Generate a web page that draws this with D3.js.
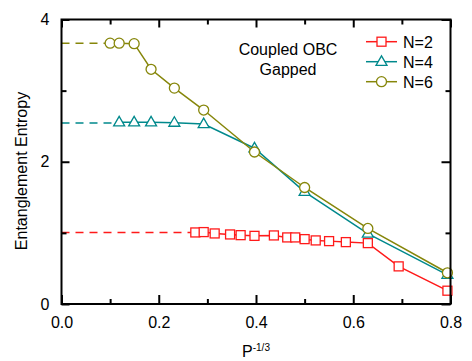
<!DOCTYPE html>
<html>
<head>
<meta charset="utf-8">
<script src="https://cdn.jsdelivr.net/npm/d3@7"></script>
<style>
  body { margin: 0; background: #fff; }
  svg { display: block; font-family: Arial, "Liberation Sans", sans-serif; }
</style>
</head>
<body>
<svg id="chart" width="472" height="361"></svg>
<script>
// Entanglement entropy vs P^(-1/3), coupled OBC chains in the gapped phase
const xN2 = [0.2752, 0.2924, 0.3150, 0.3467, 0.3684, 0.3969, 0.4368, 0.4642, 0.4807, 0.5000, 0.5228, 0.5503, 0.5848, 0.6300, 0.6934, 0.7937];
const yN2 = [1.006, 1.011, 0.992, 0.978, 0.968, 0.958, 0.964, 0.936, 0.936, 0.912, 0.894, 0.884, 0.870, 0.856, 0.529, 0.187];

const xN4 = [0.1186, 0.1494, 0.1842, 0.2321, 0.2924, 0.3969, 0.5000, 0.6300, 0.7937];
const yN4 = [2.555, 2.555, 2.555, 2.550, 2.530, 2.190, 1.577, 0.990, 0.410];

const xN6 = [0.1000, 0.1186, 0.1494, 0.1842, 0.2321, 0.2924, 0.3969, 0.5000, 0.6300, 0.7937];
const yN6 = [3.667, 3.667, 3.660, 3.300, 3.036, 2.727, 2.137, 1.638, 1.062, 0.439];

// extrapolated P -> infinity values (dashed guides to x = 0)
const limitN2 = 1.006;
const limitN4 = 2.545;
const limitN6 = 3.667;

const seriesNames = ["N=2", "N=4", "N=6"];
const seriesColors = ["#ff1a1a", "#00898c", "#86860a"];
const seriesSymbols = ["square", "triangle", "circle"];

const xTickMajor = [0.0, 0.2, 0.4, 0.6, 0.8];
const xTickMinor = [0.1, 0.3, 0.5, 0.7];
const yTickMajor = [0, 2, 4];
const yTickMinor = [1, 3];

const series = [
  { name: seriesNames[0], xs: xN2, ys: yN2, limit: limitN2, color: seriesColors[0], symbol: seriesSymbols[0] },
  { name: seriesNames[1], xs: xN4, ys: yN4, limit: limitN4, color: seriesColors[1], symbol: seriesSymbols[1] },
  { name: seriesNames[2], xs: xN6, ys: yN6, limit: limitN6, color: seriesColors[2], symbol: seriesSymbols[2] }
];

const svg = d3.select("#chart");
const plotLeft = 61.5, plotRight = 450.5, plotTop = 19.5, plotBottom = 304;

const x = d3.scaleLinear().domain([0, 0.8]).range([plotLeft, plotRight]);
const y = d3.scaleLinear().domain([0, 4]).range([plotBottom, plotTop]);

// marker drawing
function drawMarker(g, kind, cx, cy, color) {
  if (kind === "square") {
    g.append("rect").attr("x", cx - 4.5).attr("y", cy - 4.5).attr("width", 9).attr("height", 9)
      .attr("fill", "#fff").attr("stroke", color).attr("stroke-width", 1.3);
  } else if (kind === "triangle") {
    const h = 9.5, w = 11;
    g.append("path")
      .attr("d", `M${cx},${cy - h * 0.62} L${cx + w / 2},${cy + h * 0.38} L${cx - w / 2},${cy + h * 0.38} Z`)
      .attr("fill", "#fff").attr("stroke", color).attr("stroke-width", 1.3);
  } else {
    g.append("circle").attr("cx", cx).attr("cy", cy).attr("r", 5)
      .attr("fill", "#fff").attr("stroke", color).attr("stroke-width", 1.3);
  }
}

const line = d3.line().x(d => x(d[0])).y(d => y(d[1]));
const plot = svg.append("g");

series.forEach(s => {
  // dashed extrapolation line from x=0 to the first point
  plot.append("path")
    .datum([[0, s.limit], [s.xs[0], s.limit]])
    .attr("d", line)
    .attr("fill", "none").attr("stroke", s.color).attr("stroke-width", 1.5)
    .attr("stroke-dasharray", "8,6");
  const pts = s.xs.map((v, i) => [v, s.ys[i]]);
  plot.append("path").datum(pts).attr("d", line)
    .attr("fill", "none").attr("stroke", s.color).attr("stroke-width", 1.5);
});
series.forEach(s => {
  const g = plot.append("g");
  s.xs.forEach((v, i) => drawMarker(g, s.symbol, x(v), y(s.ys[i]), s.color));
});

// axes (ticks pointing inward on all four sides)
const axisG = svg.append("g");
const bottomAxis = d3.axisBottom(x).tickValues(xTickMajor).tickFormat(d3.format(".1f")).tickSize(-9).tickPadding(13);
const bottomMinor = d3.axisBottom(x).tickValues(xTickMinor).tickFormat("").tickSize(-5);
const topAxis = d3.axisTop(x).tickValues(xTickMajor).tickFormat("").tickSize(-8);
const topMinor = d3.axisTop(x).tickValues(xTickMinor).tickFormat("").tickSize(-5);
const leftAxis = d3.axisLeft(y).tickValues(yTickMajor).tickFormat(d3.format("d")).tickSize(-8).tickPadding(12);
const leftMinor = d3.axisLeft(y).tickValues(yTickMinor).tickFormat("").tickSize(-5);
const rightAxis = d3.axisRight(y).tickValues(yTickMajor).tickFormat("").tickSize(-9);
const rightMinor = d3.axisRight(y).tickValues(yTickMinor).tickFormat("").tickSize(-5);

function styleAxis(sel) {
  sel.selectAll(".tick line").attr("stroke", "#000").attr("stroke-width", 2);
  sel.selectAll(".tick text").attr("fill", "#000").style("font-size", "16px")
    .style("font-family", "Arial, 'Liberation Sans', sans-serif");
}

[[bottomAxis, `translate(0,${plotBottom})`], [bottomMinor, `translate(0,${plotBottom})`],
 [topAxis, `translate(0,${plotTop})`], [topMinor, `translate(0,${plotTop})`],
 [leftAxis, `translate(${plotLeft},0)`], [leftMinor, `translate(${plotLeft},0)`],
 [rightAxis, `translate(${plotRight},0)`], [rightMinor, `translate(${plotRight},0)`]]
  .forEach(([ax, tr]) => {
    const g = axisG.append("g").attr("transform", tr).call(ax);
    g.select(".domain").remove();
    styleAxis(g);
  });

// frame
axisG.append("rect").attr("x", plotLeft).attr("y", plotTop)
  .attr("width", plotRight - plotLeft).attr("height", plotBottom - plotTop)
  .attr("fill", "none").attr("stroke", "#000").attr("stroke-width", 2);

// axis titles
const xt = svg.append("text").attr("x", 256).attr("y", 357)
  .attr("text-anchor", "middle").attr("fill", "#000").style("font-size", "16px");
xt.append("tspan").text("P");
xt.append("tspan").attr("dy", -6).style("font-size", "10px").text("-1/3");

svg.append("text").attr("transform", "translate(27,171) rotate(-90)")
  .attr("text-anchor", "middle").attr("fill", "#000").style("font-size", "16px")
  .text("Entanglement Entropy");

// annotation
svg.append("text").attr("x", 288).attr("y", 55).attr("text-anchor", "middle")
  .attr("fill", "#000").style("font-size", "16px").text("Coupled OBC");
svg.append("text").attr("x", 288).attr("y", 75).attr("text-anchor", "middle")
  .attr("fill", "#000").style("font-size", "16px").text("Gapped");

// legend
const legend = svg.append("g");
series.forEach((s, i) => {
  const ly = 41.7 + i * 20;
  legend.append("line").attr("x1", 366).attr("x2", 397).attr("y1", ly).attr("y2", ly)
    .attr("stroke", s.color).attr("stroke-width", 1.5);
  drawMarker(legend, s.symbol, 381.5, ly, s.color);
  legend.append("text").attr("x", 403).attr("y", ly + 6).attr("fill", "#000")
    .style("font-size", "16px").text(s.name);
});
</script>
</body>
</html>
